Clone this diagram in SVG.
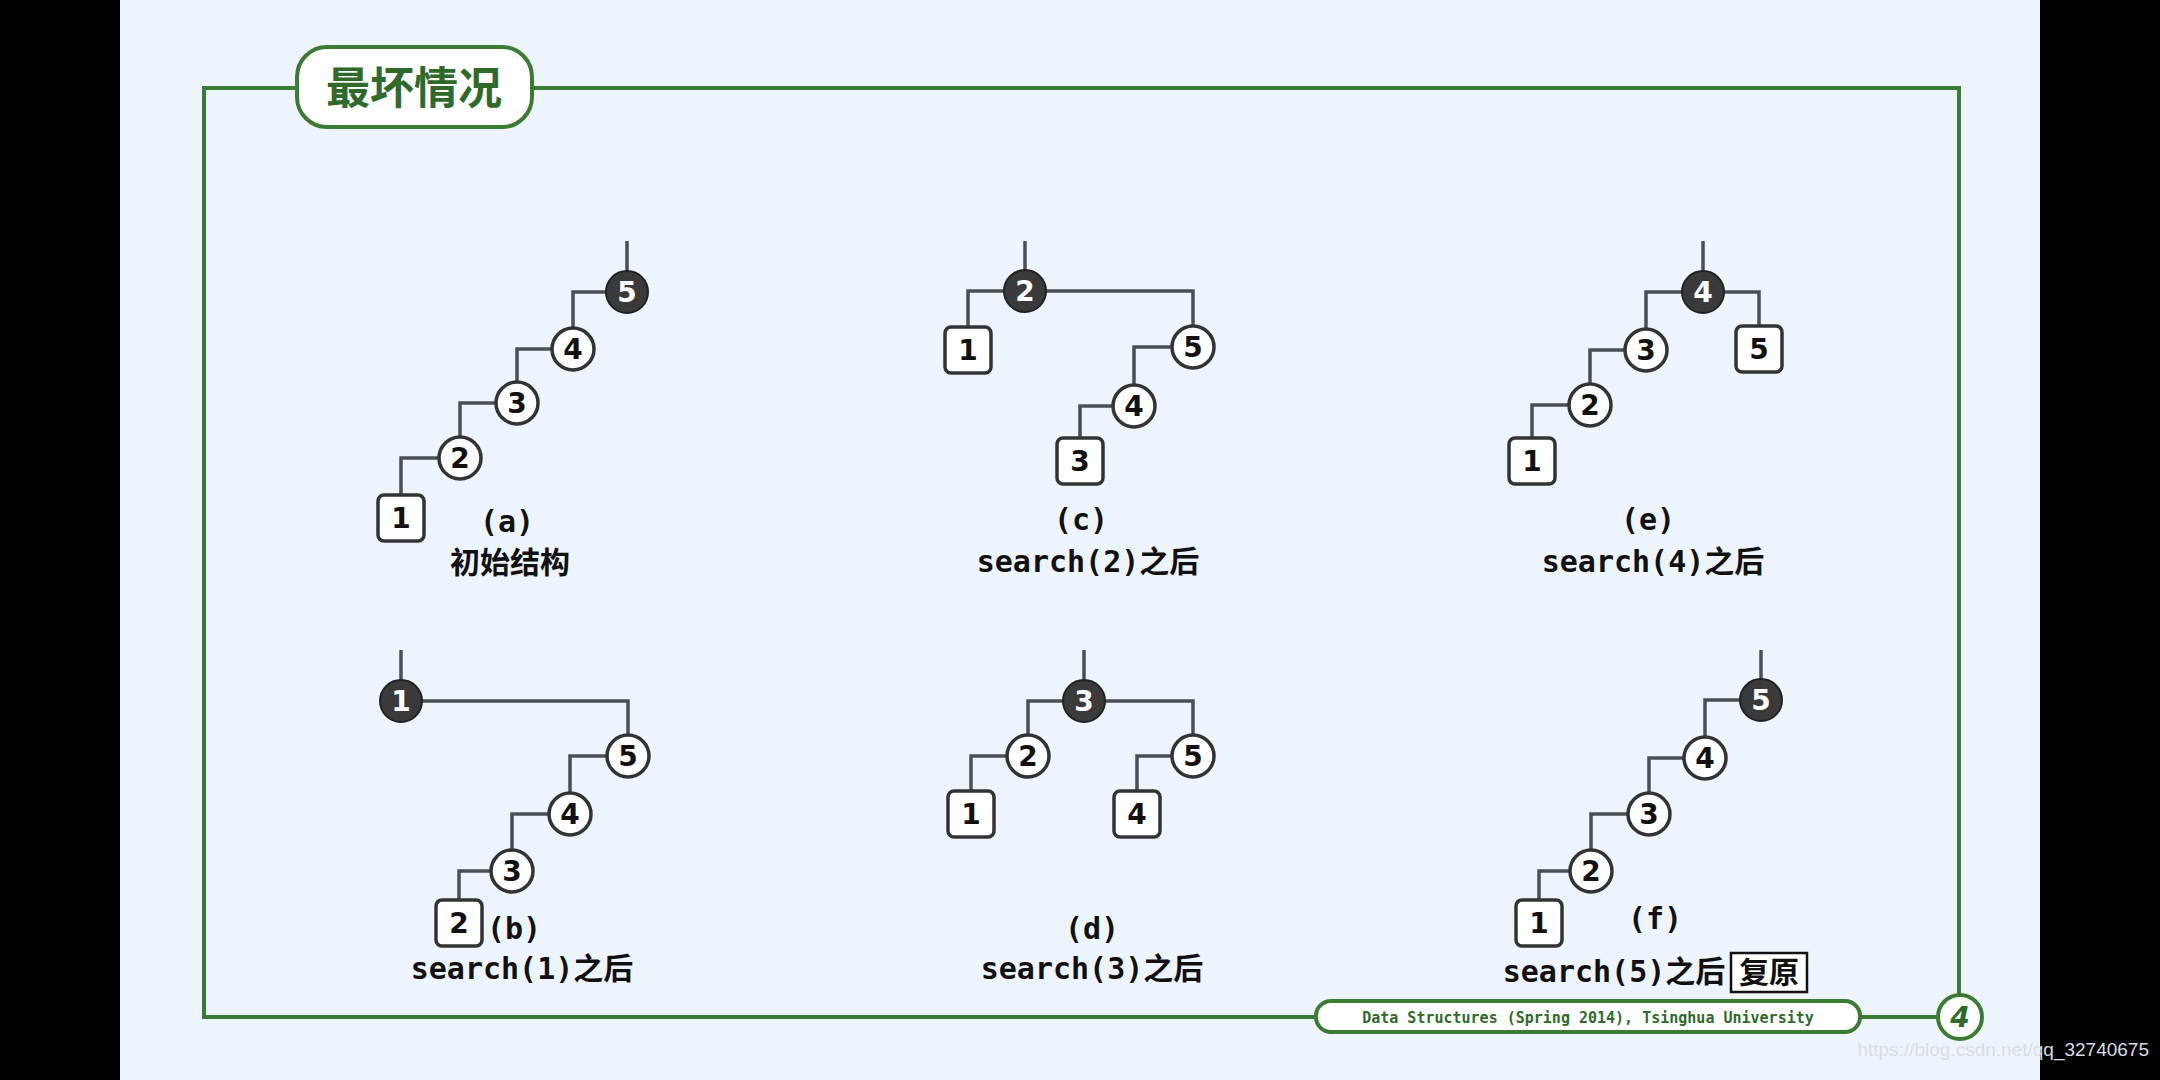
<svg xmlns="http://www.w3.org/2000/svg" width="2160" height="1080" viewBox="0 0 2160 1080">
<style>
.e{fill:none;stroke:#4a4f55;stroke-width:3.5}
.c{fill:#fff;stroke:#333;stroke-width:3.5}
.d{fill:#3a3a3a;stroke:#222;stroke-width:2}
.t{font-family:"DejaVu Sans",sans-serif;font-weight:bold;font-size:28px;text-anchor:middle;fill:#111}
.w{fill:#fff}
.l{font-family:"DejaVu Sans Mono","Noto Sans CJK SC",monospace;font-weight:bold;font-size:30px;text-anchor:middle;fill:#111}
</style>
<rect width="2160" height="1080" fill="#000"/>
<rect x="120" y="0" width="1920" height="1080" fill="#eef4fb"/>
<rect x="204" y="88" width="1755" height="929" fill="none" stroke="#3d7a34" stroke-width="4"/>
<g id="title"><rect x="297" y="47" width="235" height="80" rx="30" fill="#fff" stroke="#3d7a34" stroke-width="4"/>
<text x="414" y="104" font-family="Noto Sans CJK SC,sans-serif" font-weight="bold" font-size="44" fill="#2f6a2a" text-anchor="middle">最坏情况</text></g>
<g id="connectors">
<path class="e" d="M627 241V272 M627 292H573V328 M573 349H517V382 M517 403H460V437 M460 458H401V495"/>
<path class="e" d="M1025 241V271 M1025 291H968V327 M1025 291H1193V326 M1193 347H1134V385 M1134 406H1080V438"/>
<path class="e" d="M1703 241V272 M1703 292H1646V329 M1703 292H1759V326 M1646 350H1590V384 M1590 405H1532V438"/>
<path class="e" d="M401 650V681 M401 701H628V735 M628 756H570V793 M570 814H512V850 M512 871H459V900"/>
<path class="e" d="M1084 650V681 M1084 701H1028V735 M1084 701H1193V735 M1028 756H971V791 M1193 756H1137V791"/>
<path class="e" d="M1761 650V680 M1761 700H1705V737 M1705 758H1649V793 M1649 814H1591V850 M1591 871H1539V900"/>
</g>
<g id="a">
<g id="a5"><circle class="d" cx="627" cy="292" r="21"/><text class="t w" x="627" y="302">5</text></g>
<g id="a4"><circle class="c" cx="573" cy="349" r="21"/><text class="t" x="573" y="359">4</text></g>
<g id="a3"><circle class="c" cx="517" cy="403" r="21"/><text class="t" x="517" y="413">3</text></g>
<g id="a2"><circle class="c" cx="460" cy="458" r="21"/><text class="t" x="460" y="468">2</text></g>
<g id="a1"><rect class="c" x="378" y="495" width="46" height="46" rx="6"/><text class="t" x="401" y="528">1</text></g>
<text class="l" x="507" y="532">(a)</text><text class="l" x="510" y="573">初始结构</text>
</g>
<g id="c">
<g id="c2"><circle class="d" cx="1025" cy="291" r="21"/><text class="t w" x="1025" y="301">2</text></g>
<g id="c1"><rect class="c" x="945" y="327" width="46" height="46" rx="6"/><text class="t" x="968" y="360">1</text></g>
<g id="c5"><circle class="c" cx="1193" cy="347" r="21"/><text class="t" x="1193" y="357">5</text></g>
<g id="c4"><circle class="c" cx="1134" cy="406" r="21"/><text class="t" x="1134" y="416">4</text></g>
<g id="c3"><rect class="c" x="1057" y="438" width="46" height="46" rx="6"/><text class="t" x="1080" y="471">3</text></g>
<text class="l" x="1081" y="530">(c)</text><text class="l" x="1088" y="572">search(2)之后</text>
</g>
<g id="e">
<g id="e4"><circle class="d" cx="1703" cy="292" r="21"/><text class="t w" x="1703" y="302">4</text></g>
<g id="e3"><circle class="c" cx="1646" cy="350" r="21"/><text class="t" x="1646" y="360">3</text></g>
<g id="e5"><rect class="c" x="1736" y="326" width="46" height="46" rx="6"/><text class="t" x="1759" y="359">5</text></g>
<g id="e2"><circle class="c" cx="1590" cy="405" r="21"/><text class="t" x="1590" y="415">2</text></g>
<g id="e1"><rect class="c" x="1509" y="438" width="46" height="46" rx="6"/><text class="t" x="1532" y="471">1</text></g>
<text class="l" x="1648" y="530">(e)</text><text class="l" x="1653" y="572">search(4)之后</text>
</g>
<g id="b">
<g id="b1"><circle class="d" cx="401" cy="701" r="21"/><text class="t w" x="401" y="711">1</text></g>
<g id="b5"><circle class="c" cx="628" cy="756" r="21"/><text class="t" x="628" y="766">5</text></g>
<g id="b4"><circle class="c" cx="570" cy="814" r="21"/><text class="t" x="570" y="824">4</text></g>
<g id="b3"><circle class="c" cx="512" cy="871" r="21"/><text class="t" x="512" y="881">3</text></g>
<g id="b2"><rect class="c" x="436" y="900" width="46" height="46" rx="6"/><text class="t" x="459" y="933">2</text></g>
<text class="l" x="514" y="939">(b)</text><text class="l" x="522" y="979">search(1)之后</text>
</g>
<g id="d">
<g id="d3"><circle class="d" cx="1084" cy="701" r="21"/><text class="t w" x="1084" y="711">3</text></g>
<g id="d2"><circle class="c" cx="1028" cy="756" r="21"/><text class="t" x="1028" y="766">2</text></g>
<g id="d5"><circle class="c" cx="1193" cy="756" r="21"/><text class="t" x="1193" y="766">5</text></g>
<g id="d1"><rect class="c" x="948" y="791" width="46" height="46" rx="6"/><text class="t" x="971" y="824">1</text></g>
<g id="d4"><rect class="c" x="1114" y="791" width="46" height="46" rx="6"/><text class="t" x="1137" y="824">4</text></g>
<text class="l" x="1092" y="939">(d)</text><text class="l" x="1092" y="979">search(3)之后</text>
</g>
<g id="f">
<g id="f5"><circle class="d" cx="1761" cy="700" r="21"/><text class="t w" x="1761" y="710">5</text></g>
<g id="f4"><circle class="c" cx="1705" cy="758" r="21"/><text class="t" x="1705" y="768">4</text></g>
<g id="f3"><circle class="c" cx="1649" cy="814" r="21"/><text class="t" x="1649" y="824">3</text></g>
<g id="f2"><circle class="c" cx="1591" cy="871" r="21"/><text class="t" x="1591" y="881">2</text></g>
<g id="f1"><rect class="c" x="1516" y="900" width="46" height="46" rx="6"/><text class="t" x="1539" y="933">1</text></g>
<text class="l" x="1655" y="929">(f)</text><text class="l" x="1614" y="982">search(5)之后</text>
<rect x="1731" y="953" width="76" height="39" fill="#fff" stroke="#111" stroke-width="2.5"/>
<text class="l" x="1769" y="983">复原</text>
</g>
<g id="footer"><rect x="1316" y="1001" width="544" height="31" rx="15" fill="#fff" stroke="#3d7a34" stroke-width="4"/>
<text x="1588" y="1023" font-family="DejaVu Sans Mono,monospace" font-weight="bold" font-size="15" fill="#2f6a2a" text-anchor="middle">Data Structures (Spring 2014), Tsinghua University</text>
<circle cx="1960" cy="1017" r="22" fill="#fff" stroke="#3d7a34" stroke-width="4"/>
<text x="1960" y="1027" font-family="DejaVu Sans,sans-serif" font-style="italic" font-weight="bold" font-size="28" fill="#2f6a2a" text-anchor="middle">4</text></g>
<text x="2149" y="1056" font-family="Liberation Sans Narrow,Liberation Sans,sans-serif" font-size="19" fill="#d8dde3" text-anchor="end">https://blog.csdn.net/qq_32740675</text>
</svg>
